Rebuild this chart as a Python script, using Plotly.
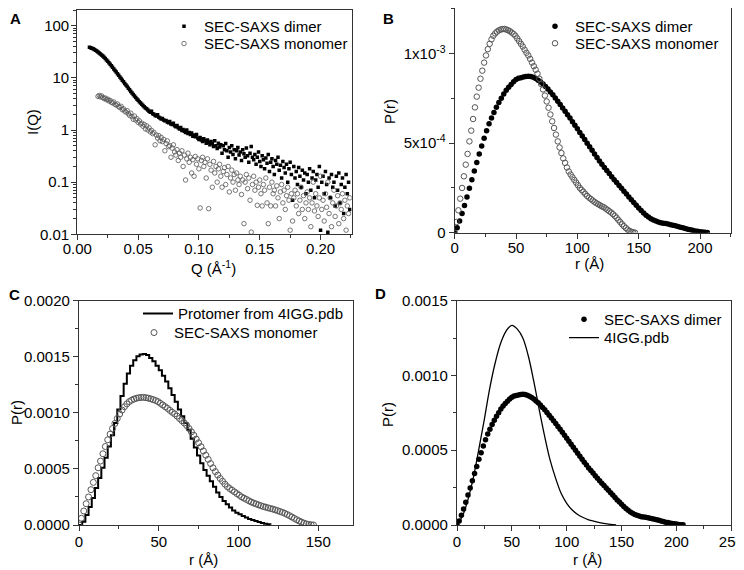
import plotly.graph_objects as go

# Window is 744x570; the page body adds an 8 px margin, so the figure is placed 8 px in
OX, OY = 8, 8
W, H = 744 - OX, 570 - OY

# ---------------- Panel A data: I(Q) ----------------
q_dimer_milli = [10, 11, 12, 13, 14, 15, 16, 17, 18, 19, 20, 21, 22, 23, 24, 25, 26, 27, 28, 29,
                 30, 31, 32, 33, 34, 35, 36, 37, 38, 39, 40, 41, 42, 43, 44, 45, 46, 47, 48, 49,
                 50, 51, 52, 53, 54, 55, 56, 57, 58, 59, 60, 61, 62, 63, 64, 65, 66, 67, 68, 69,
                 70, 71, 72, 73, 74, 75, 76, 77, 78, 79, 80, 81, 82, 83, 84, 85, 86, 87, 88, 89,
                 90, 91, 92, 93, 94, 95, 96, 97, 98, 99, 100, 101, 102, 103, 104, 105, 106, 107, 108, 109,
                 110, 111, 112, 113, 114, 115, 116, 117, 118, 119, 120, 121, 122, 123, 124, 125, 126, 127, 128, 129,
                 130, 131, 132, 133, 134, 135, 136, 137, 138, 139, 140, 141, 142, 143, 144, 145, 146, 147, 148, 149,
                 150, 151, 152, 153, 154, 155, 156, 157, 158, 159, 160, 161, 162, 163, 164, 165, 166, 167, 168, 169,
                 170, 171, 172, 173, 174, 175, 176, 177, 178, 179, 180, 181, 182, 183, 184, 185, 186, 187, 188, 189,
                 190, 191, 192, 193, 194, 195, 196, 197, 198, 199, 200, 201, 202, 203, 204, 205, 206, 207, 208, 209,
                 210, 211, 212, 213, 214, 215, 216, 217, 218, 219, 220, 221, 222, 223, 224]
I_dimer = [38.5, 37.8, 37.0, 36.0, 35.0, 33.8, 32.6, 31.3, 30.0, 28.8,
           27.4, 26.1, 24.8, 23.4, 22.1, 20.8, 19.5, 18.2, 17.0, 15.9,
           14.8, 13.8, 12.9, 12.0, 11.2, 10.4, 9.7, 9.0, 8.4, 7.8,
           7.3, 6.8, 6.35, 5.9, 5.5, 5.15, 4.8, 4.5, 4.2, 3.95,
           3.7, 3.5, 3.3, 3.1, 2.95, 2.8, 2.65, 2.55, 2.42, 2.3,
           2.2, 2.3, 2.05, 2.0, 1.9, 1.85, 1.95, 1.75, 1.7, 1.62,
           1.66, 1.55, 1.5, 1.52, 1.42, 1.38, 1.45, 1.3, 1.28, 1.35,
           1.2, 1.15, 1.22, 1.1, 1.05, 1.12, 0.98, 1.02, 0.95, 0.9,
           1.0, 0.86, 0.9, 0.82, 0.88, 0.76, 0.8, 0.74, 0.82, 0.7,
           0.66, 0.72, 0.64, 0.6, 0.68, 0.62, 0.56, 0.64, 0.58, 0.52,
           0.6, 0.55, 0.48, 0.62, 0.5, 0.44, 0.56, 0.47, 0.52, 0.36,
           0.5, 0.42, 0.55, 0.4, 0.3, 0.46, 0.38, 0.5, 0.34, 0.42,
           0.28, 0.4, 0.46, 0.33, 0.38, 0.26, 0.42, 0.35, 0.3, 0.45,
           0.32, 0.24, 0.36, 0.48, 0.3, 0.27, 0.34, 0.22, 0.3, 0.38,
           0.25, 0.2, 0.32, 0.27, 0.18, 0.29, 0.23, 0.34, 0.16, 0.24,
           0.28, 0.2, 0.14, 0.26, 0.22, 0.3, 0.17, 0.21, 0.12, 0.25,
           0.19, 0.15, 0.22, 0.1, 0.18, 0.24, 0.14, 0.045, 0.2, 0.12,
           0.16, 0.09, 0.19, 0.13, 0.08, 0.17, 0.11, 0.15, 0.06, 0.14,
           0.1, 0.18, 0.07, 0.12, 0.16, 0.05, 0.11, 0.14, 0.08, 0.2,
           0.012, 0.1, 0.13, 0.06, 0.16, 0.09, 0.011, 0.12, 0.05, 0.14,
           0.08, 0.1, 0.035, 0.13, 0.07, 0.15, 0.04, 0.09, 0.12, 0.025,
           0.08, 0.14, 0.06, 0.1, 0.03]

q_monomer_milli = q_dimer_milli[7:]
I_monomer = [4.4, 4.6, 4.3, 4.5, 4.2, 4.0, 4.1, 3.8, 3.9, 3.6,
             3.7, 3.4, 3.3, 3.45, 3.1, 3.0, 3.15, 2.8, 2.7, 2.85,
             2.45, 2.55, 2.3, 2.2, 2.35, 2.05, 1.9, 2.1, 1.8, 1.6,
             1.85, 1.55, 1.65, 1.4, 1.5, 1.3, 1.35, 1.18, 1.28, 1.05,
             1.2, 1.0, 1.1, 0.92, 0.98, 0.85, 0.9, 0.52, 0.8, 0.7,
             0.78, 0.62, 0.72, 0.6, 0.66, 0.4, 0.55, 0.62, 0.48, 0.5,
             0.3, 0.45, 0.52, 0.38, 0.33, 0.42, 0.26, 0.36, 0.3, 0.4,
             0.2, 0.33, 0.11, 0.28, 0.36, 0.24, 0.3, 0.15, 0.27, 0.13,
             0.31, 0.22, 0.28, 0.18, 0.032, 0.26, 0.3, 0.2, 0.24, 0.12,
             0.28, 0.031, 0.22, 0.17, 0.08, 0.25, 0.15, 0.2, 0.1, 0.18,
             0.22, 0.13, 0.08, 0.16, 0.19, 0.09, 0.14, 0.2, 0.065, 0.12,
             0.17, 0.1, 0.14, 0.07, 0.15, 0.11, 0.09, 0.13, 0.058, 0.11,
             0.016, 0.1, 0.14, 0.075, 0.12, 0.045, 0.011, 0.09, 0.13, 0.07,
             0.1, 0.036, 0.08, 0.11, 0.06, 0.035, 0.09, 0.07, 0.12, 0.04,
             0.016, 0.08, 0.035, 0.1, 0.06, 0.07, 0.035, 0.085, 0.05, 0.02,
             0.065, 0.09, 0.04, 0.07, 0.03, 0.055, 0.08, 0.045, 0.012, 0.06,
             0.018, 0.05, 0.07, 0.035, 0.06, 0.025, 0.045, 0.08, 0.03, 0.055,
             0.02, 0.04, 0.065, 0.03, 0.05, 0.014, 0.04, 0.1, 0.028, 0.06,
             0.035, 0.022, 0.05, 0.13, 0.03, 0.045, 0.018, 0.06, 0.033, 0.1,
             0.025, 0.05, 0.014, 0.04, 0.07, 0.022, 0.035, 0.055, 0.016, 0.04,
             0.03, 0.06, 0.02, 0.045, 0.012, 0.035, 0.025, 0.05]

# ---------------- P(r) data ----------------
r_dimer = [0, 2, 4, 6, 8, 10, 12, 14, 16, 18, 20, 22, 24, 26, 28, 30, 32, 34, 36, 38,
           40, 42, 44, 46, 48, 50, 52, 54, 56, 58, 60, 62, 64, 66, 68, 70, 72, 74, 76, 78,
           80, 82, 84, 86, 88, 90, 92, 94, 96, 98, 100, 102, 104, 106, 108, 110, 112, 114, 116, 118,
           120, 122, 124, 126, 128, 130, 132, 134, 136, 138, 140, 142, 144, 146, 148, 150, 152, 154, 156, 158,
           160, 162, 164, 166, 168, 170, 172, 174, 176, 178, 180, 182, 184, 186, 188, 190, 192, 194, 196, 198,
           200, 202, 204, 206]
P_dimer_e4 = [0, 0.27, 0.65, 1.07, 1.52, 2.0, 2.48, 2.96, 3.44, 3.92, 4.4, 4.84, 5.28, 5.7, 6.08, 6.4, 6.72, 7.01, 7.27, 7.51,
              7.75, 7.95, 8.12, 8.28, 8.43, 8.55, 8.62, 8.66, 8.7, 8.73, 8.74, 8.73, 8.68, 8.61, 8.52, 8.42, 8.3, 8.17, 8.02, 7.86,
              7.7, 7.52, 7.34, 7.16, 6.97, 6.78, 6.59, 6.4, 6.2, 6.0, 5.8, 5.6, 5.4, 5.2, 5.0, 4.8, 4.6, 4.4, 4.2, 4.01,
              3.82, 3.64, 3.47, 3.3, 3.13, 2.96, 2.8, 2.64, 2.48, 2.32, 2.16, 2.0, 1.84, 1.68, 1.53, 1.38, 1.24, 1.1, 0.98, 0.87,
              0.78, 0.71, 0.65, 0.6, 0.56, 0.53, 0.51, 0.48, 0.45, 0.42, 0.39, 0.35, 0.31, 0.27, 0.23, 0.19, 0.16, 0.13, 0.1, 0.08,
              0.06, 0.04, 0.02, 0.01]

r_monomer = [0, 1.5, 3, 4.5, 6, 7.5, 9, 10.5, 12, 13.5, 15, 16.5, 18, 19.5, 21, 22.5, 24, 25.5, 27, 28.5,
             30, 31.5, 33, 34.5, 36, 37.5, 39, 40.5, 42, 43.5, 45, 46.5, 48, 49.5, 51, 52.5, 54, 55.5, 57, 58.5,
             60, 61.5, 63, 64.5, 66, 67.5, 69, 70.5, 72, 73.5, 75, 76.5, 78, 79.5, 81, 82.5, 84, 85.5, 87, 88.5,
             90, 91.5, 93, 94.5, 96, 97.5, 99, 100.5, 102, 103.5, 105, 106.5, 108, 109.5, 111, 112.5, 114, 115.5, 117, 118.5,
             120, 121.5, 123, 124.5, 126, 127.5, 129, 130.5, 132, 133.5, 135, 136.5, 138, 139.5, 141, 142.5, 144, 145.5, 147]
P_monomer_e3 = [0.0, 0.06, 0.125, 0.19, 0.25, 0.315, 0.38, 0.44, 0.51, 0.57, 0.635, 0.7, 0.76, 0.81, 0.86, 0.905, 0.95, 0.99, 1.025, 1.055,
                1.08, 1.1, 1.113, 1.123, 1.13, 1.135, 1.137, 1.138, 1.135, 1.131, 1.125, 1.118, 1.11, 1.1, 1.085, 1.07, 1.055, 1.04, 1.022, 1.005,
                0.99, 0.971, 0.95, 0.93, 0.91, 0.888, 0.86, 0.83, 0.8, 0.766, 0.733, 0.698, 0.66, 0.622, 0.585, 0.548, 0.51, 0.476, 0.445, 0.415,
                0.39, 0.364, 0.342, 0.325, 0.31, 0.295, 0.28, 0.265, 0.25, 0.239, 0.228, 0.216, 0.205, 0.196, 0.188, 0.18, 0.172, 0.165, 0.159, 0.153,
                0.147, 0.142, 0.135, 0.128, 0.12, 0.113, 0.104, 0.094, 0.083, 0.071, 0.059, 0.047, 0.036, 0.026, 0.017, 0.01, 0.005, 0.002, 0.0]

r_protomer = [0, 2, 4, 6, 8, 10, 12, 14, 16, 18, 20, 22, 24, 26, 28, 30, 32, 34, 36, 38,
              40, 42, 44, 46, 48, 50, 52, 54, 56, 58, 60, 62, 64, 66, 68, 70, 72, 74, 76, 78,
              80, 82, 84, 86, 88, 90, 92, 94, 96, 98, 100, 102, 104, 106, 108, 110, 112, 114, 116, 118, 120]
P_protomer_e3 = [0, 0.03, 0.09, 0.16, 0.24, 0.33, 0.42, 0.51, 0.6, 0.7, 0.8, 0.91, 1.03, 1.15, 1.26, 1.35, 1.42, 1.47, 1.505, 1.52,
                 1.525, 1.515, 1.49, 1.46, 1.42, 1.38, 1.33, 1.28, 1.22, 1.16, 1.1, 1.03, 0.97, 0.91, 0.85, 0.77, 0.69, 0.62, 0.55, 0.49,
                 0.44, 0.39, 0.34, 0.29, 0.25, 0.215, 0.185, 0.155, 0.13, 0.11, 0.095, 0.08, 0.066, 0.054, 0.044, 0.035, 0.026, 0.018, 0.011, 0.006, 0.003]

r_4igg = [0, 5, 10, 15, 20, 25, 30, 35, 40, 45, 50, 55, 60, 65, 70, 75, 80, 85, 90, 95,
          100, 105, 110, 115, 120, 125, 130, 135, 140, 145]
P_4igg_e3 = [0, 0.06, 0.17, 0.32, 0.51, 0.71, 0.92, 1.09, 1.22, 1.3, 1.335, 1.31, 1.25, 1.13, 0.96, 0.77, 0.59, 0.43, 0.31, 0.21,
             0.145, 0.1, 0.07, 0.05, 0.035, 0.025, 0.016, 0.009, 0.004, 0.0]

assert len(q_dimer_milli) == len(I_dimer), (len(q_dimer_milli), len(I_dimer))
assert len(q_monomer_milli) == len(I_monomer), (len(q_monomer_milli), len(I_monomer))
assert len(r_dimer) == len(P_dimer_e4), (len(r_dimer), len(P_dimer_e4))
assert len(r_monomer) == len(P_monomer_e3), (len(r_monomer), len(P_monomer_e3))
assert len(r_protomer) == len(P_protomer_e3)
assert len(r_4igg) == len(P_4igg_e3)

Q_dimer = [v / 1000 for v in q_dimer_milli]
Q_monomer = [v / 1000 for v in q_monomer_milli]
P_dimer = [v * 1e-4 for v in P_dimer_e4]
P_monomer = [v * 1e-3 for v in P_monomer_e3]
P_protomer = [v * 1e-3 for v in P_protomer_e3]
P_4igg = [v * 1e-3 for v in P_4igg_e3]

FONT = "Arial, 'Liberation Sans', sans-serif"
GRAY = "#555555"


def fx(px):
    return min(1.0, max(0.0, (px - OX) / W))


def fy(py):
    return min(1.0, max(0.0, 1 - (py - OY) / H))


def fx_free(px):
    return (px - OX) / W


def fy_free(py):
    return 1 - (py - OY) / H


fig = go.Figure()

# Panel A
fig.add_trace(go.Scatter(x=Q_dimer, y=I_dimer, mode="markers", name="SEC-SAXS dimer",
                         marker=dict(symbol="square", size=3.5, color="black"),
                         xaxis="x", yaxis="y", legend="legend9"))
fig.add_trace(go.Scatter(x=Q_monomer, y=I_monomer, mode="markers", name="SEC-SAXS monomer",
                         marker=dict(symbol="circle-open", size=4.5, color=GRAY, line=dict(width=0.8)),
                         xaxis="x", yaxis="y", legend="legend2"))
# Panel B
fig.add_trace(go.Scatter(x=r_dimer, y=P_dimer, mode="markers", name="SEC-SAXS dimer",
                         marker=dict(symbol="circle", size=5.5, color="black"),
                         xaxis="x2", yaxis="y2", legend="legend3"))
fig.add_trace(go.Scatter(x=r_monomer, y=P_monomer, mode="markers", name="SEC-SAXS monomer",
                         marker=dict(symbol="circle-open", size=5.5, color=GRAY, line=dict(width=1)),
                         xaxis="x2", yaxis="y2", legend="legend4"))
# Panel C
fig.add_trace(go.Scatter(x=r_protomer, y=P_protomer, mode="lines", name="Protomer from 4IGG.pdb",
                         line=dict(color="black", width=2, shape="hv"),
                         xaxis="x3", yaxis="y3", legend="legend5"))
fig.add_trace(go.Scatter(x=r_monomer, y=P_monomer, mode="markers", name="SEC-SAXS monomer",
                         marker=dict(symbol="circle-open", size=6, color=GRAY, line=dict(width=1)),
                         xaxis="x3", yaxis="y3", legend="legend6"))
# Panel D
fig.add_trace(go.Scatter(x=r_dimer, y=P_dimer, mode="markers", name="SEC-SAXS dimer",
                         marker=dict(symbol="circle", size=5.5, color="black"),
                         xaxis="x4", yaxis="y4", legend="legend7"))
fig.add_trace(go.Scatter(x=r_4igg, y=P_4igg, mode="lines", name="4IGG.pdb",
                         line=dict(color="black", width=1.3, shape="spline"),
                         xaxis="x4", yaxis="y4", legend="legend8"))


def axis(xr, yr, is_x, rng, anchor, **kw):
    dom = [fx(xr[0]), fx(xr[1])] if is_x else [fy(yr[1]), fy(yr[0])]
    d = dict(domain=dom, range=rng, anchor=anchor, showline=True, linecolor="#333333", linewidth=1.2,
             mirror=True, ticks="outside", ticklen=5, tickwidth=1, tickcolor="#333333", showgrid=False,
             zeroline=False, automargin=False, tickfont=dict(size=15, color="black"))
    d.update(kw)
    return d


minor_lin = dict(ticks="outside", ticklen=3, tickwidth=1, tickcolor="#333333", showgrid=False)

log_minor = [0.02, 0.03, 0.04, 0.05, 0.06, 0.07, 0.08, 0.09,
             0.2, 0.3, 0.4, 0.5, 0.6, 0.7, 0.8, 0.9,
             2, 3, 4, 5, 6, 7, 8, 9, 20, 30, 40, 50, 60, 70, 80, 90, 200]

# panel boxes in window pixels: (x-range, y-range)
boxA = ((77.3, 351.7), (10, 234.3))
boxB = ((454.7, 731.3), (8, 232.7))
boxC = ((79, 352.7), (300.7, 525))
boxD = ((457, 731.3), (300.7, 525))

fig.update_layout(
    width=W, height=H, margin=dict(l=0, r=0, t=0, b=0, autoexpand=False),
    paper_bgcolor="white", plot_bgcolor="white",
    font=dict(family=FONT, size=15, color="black"),
    hovermode=False, showlegend=True,
    xaxis=axis(*boxA, True, [0, 0.2256], "y", ticklabelstandoff=-4,
               tickvals=[0, 0.05, 0.10, 0.15, 0.20], ticktext=["0.00", "0.05", "0.10", "0.15", "0.20"],
               minor=dict(dtick=0.025, tick0=0, **minor_lin)),
    yaxis=axis(*boxA, False, [-2, 2.301], "x", type="log", ticklabelstandoff=-1,
               tickvals=[0.01, 0.1, 1, 10, 100], ticktext=["0.01", "0.1", "1", "10", "100"],
               minor=dict(tickmode="array", tickvals=log_minor, **minor_lin)),
    xaxis2=axis(*boxB, True, [0, 225.5], "y2", ticklabelstandoff=-4,
                tickvals=[0, 50, 100, 150, 200], minor=dict(dtick=25, tick0=0, **minor_lin)),
    yaxis2=axis(*boxB, False, [0, 1.255e-3], "x2",
                tickvals=[0, 5e-4, 1e-3], ticktext=["0", "5x10<sup>-4</sup>", "1x10<sup>-3</sup>"],
                minor=dict(dtick=2.5e-4, tick0=0, **minor_lin)),
    xaxis3=axis(*boxC, True, [0, 171.6], "y3", ticklabelstandoff=-2,
                tickvals=[0, 50, 100, 150], minor=dict(dtick=25, tick0=0, **minor_lin)),
    yaxis3=axis(*boxC, False, [0, 0.002], "x3",
                tickvals=[0, 0.0005, 0.001, 0.0015, 0.002],
                ticktext=["0.0000", "0.0005", "0.0010", "0.0015", "0.0020"],
                minor=dict(dtick=0.00025, tick0=0, **minor_lin)),
    xaxis4=axis(*boxD, True, [0, 250], "y4", ticklabelstandoff=-2,
                tickvals=[0, 50, 100, 150, 200, 250], minor=dict(dtick=25, tick0=0, **minor_lin)),
    yaxis4=axis(*boxD, False, [0, 0.0015], "x4",
                tickvals=[0, 0.0005, 0.001, 0.0015],
                ticktext=["0.0000", "0.0005", "0.0010", "0.0015"],
                minor=dict(dtick=0.00025, tick0=0, **minor_lin)),
)

# one legend per entry so each row sits where the reference puts it (window px: left, top)
leg_common = dict(xanchor="left", yanchor="top", bgcolor="rgba(0,0,0,0)", borderwidth=0,
                  font=dict(family=FONT, size=15, color="black"))
leg_pos = {"legend9": (164, 10), "legend2": (164, 27.3),
           "legend3": (535, 10), "legend4": (535, 27),
           "legend5": (138, 297.3), "legend6": (134, 316.3),
           "legend7": (564, 303), "legend8": (564, 321.3)}
fig.update_layout(**{k: dict(x=fx_free(v[0]), y=fy_free(v[1]), **leg_common) for k, v in leg_pos.items()})

# panel letters
for txt, px, py in [("A", 15, 18.5), ("B", 388, 18.5), ("C", 14, 294), ("D", 381, 293)]:
    fig.add_annotation(text="<b>%s</b>" % txt, x=fx_free(px), y=fy_free(py), xref="paper", yref="paper",
                       showarrow=False, xanchor="center", yanchor="middle",
                       font=dict(family=FONT, size=15, color="black"))

# axis titles
titles = [("Q (Å<sup>-1</sup>)", 213, 267, 0), ("I(Q)", 32, 122, -90),
          ("r (Å)", 589, 263, 0), ("P(r)", 390, 112, -90),
          ("r (Å)", 203, 559, 0), ("P(r)", 16, 413, -90),
          ("r (Å)", 587, 559, 0), ("P(r)", 387, 415, -90)]
for txt, px, py, ang in titles:
    fig.add_annotation(text=txt, x=fx_free(px), y=fy_free(py), xref="paper", yref="paper", showarrow=False,
                       xanchor="center", yanchor="middle", textangle=ang,
                       font=dict(family=FONT, size=15, color="black"))

fig.write_html("out.html")
